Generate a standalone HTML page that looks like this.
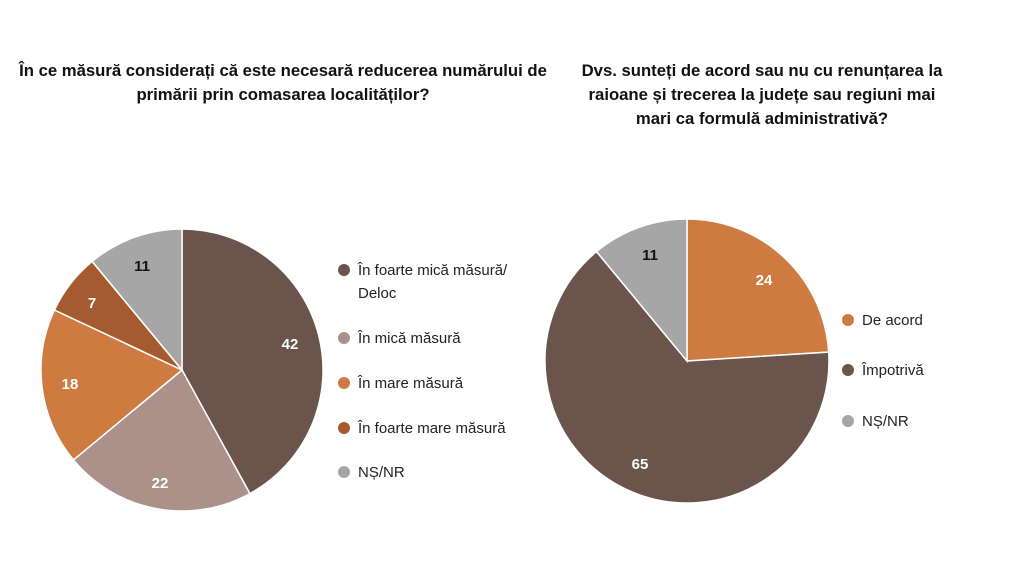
<!DOCTYPE html>
<html><head><meta charset="utf-8"><style>
html,body{margin:0;padding:0;background:#fff;}
svg{display:block;font-family:"Liberation Sans",Arial,sans-serif;}
</style></head><body>
<svg width="1024" height="585" viewBox="0 0 1024 585">
<g font-weight="bold" font-size="16.7" fill="#111" text-anchor="middle">
<text x="283" y="76">În ce măsură considerați că este necesară reducerea numărului de</text>
<text x="283" y="100">primării prin comasarea localităților?</text>
<text x="762" y="76">Dvs. sunteți de acord sau nu cu renunțarea la</text>
<text x="762" y="100">raioane și trecerea la județe sau regiuni mai</text>
<text x="762" y="124">mari ca formulă administrativă?</text>
</g>
<g stroke="#fff" stroke-width="1.5">
<path d="M182,370 L182,229 A141,141 0 0 1 249.9,493.6 Z" fill="#6a544c"/>
<path d="M182,370 L249.9,493.6 A141,141 0 0 1 73.4,459.9 Z" fill="#ab9189"/>
<path d="M182,370 L73.4,459.9 A141,141 0 0 1 54.4,310 Z" fill="#cd7b40"/>
<path d="M182,370 L54.4,310 A141,141 0 0 1 92.1,261.4 Z" fill="#a55b2f"/>
<path d="M182,370 L92.1,261.4 A141,141 0 0 1 182,229 Z" fill="#a6a6a6"/>
<path d="M687,361 L687,219 A142,142 0 0 1 828.7,352.1 Z" fill="#cd7b40"/>
<path d="M687,361 L828.7,352.1 A142,142 0 1 1 596.5,251.6 Z" fill="#6a544c"/>
<path d="M687,361 L596.5,251.6 A142,142 0 0 1 687,219 Z" fill="#a6a6a6"/>
</g>
<g font-weight="bold" font-size="15" text-anchor="middle">
<text x="290" y="349" fill="#fff">42</text>
<text x="160" y="488" fill="#fff">22</text>
<text x="70" y="389" fill="#fff">18</text>
<text x="92" y="308" fill="#fff">7</text>
<text x="142" y="271" fill="#111">11</text>
<text x="764" y="285" fill="#fff">24</text>
<text x="640" y="469" fill="#fff">65</text>
<text x="650" y="260" fill="#111">11</text>
</g>
<g font-size="15" fill="#222">
<circle cx="344" cy="270" r="6" fill="#6a544c"/><text x="358" y="275">În foarte mică măsură/</text><text x="358" y="298">Deloc</text>
<circle cx="344" cy="338" r="6" fill="#ab9189"/><text x="358" y="343">În mică măsură</text>
<circle cx="344" cy="383" r="6" fill="#cd7b40"/><text x="358" y="388">În mare măsură</text>
<circle cx="344" cy="428" r="6" fill="#a55b2f"/><text x="358" y="433">În foarte mare măsură</text>
<circle cx="344" cy="472" r="6" fill="#a6a6a6"/><text x="358" y="477">NȘ/NR</text>
<circle cx="848" cy="320" r="6" fill="#cd7b40"/><text x="862" y="325">De acord</text>
<circle cx="848" cy="370" r="6" fill="#6a544c"/><text x="862" y="375">Împotrivă</text>
<circle cx="848" cy="421" r="6" fill="#a6a6a6"/><text x="862" y="426">NȘ/NR</text>
</g>
</svg>
</body></html>
